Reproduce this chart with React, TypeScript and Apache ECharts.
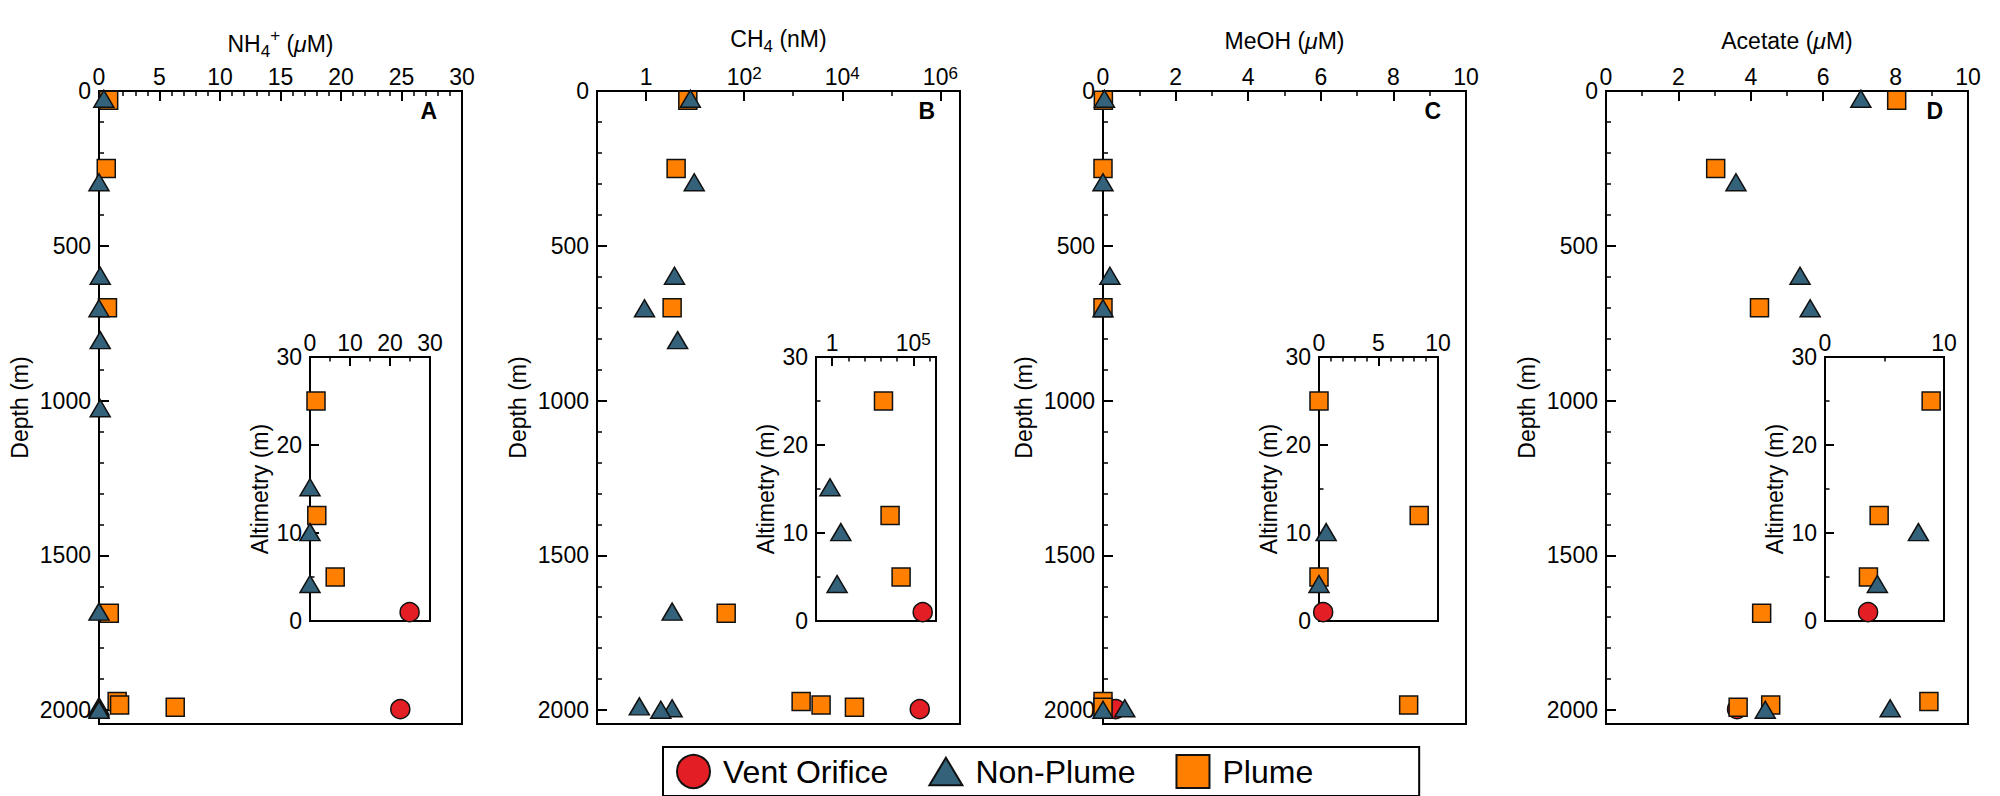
import React, { useEffect, useRef } from 'react';
import * as echarts from 'echarts';

const FONT = '"Liberation Sans", Arial, Helvetica, sans-serif';

// ---------- data ----------
const seriesNames = ['Vent Orifice', 'Non-Plume', 'Plume'];
const panelLetters = ['A', 'B', 'C', 'D'];

// sample depths (m) and altimetry (m above seafloor)
const plumeDepth = [30, 250, 700, 1687, 1972, 1984, 1991];
const nonPlumeDepth = [25, 295, 597, 702, 805, 1025, 1682, 1988, 1994, 1999];
const ventDepth = [1997];
const plumeAlt = [null, null, null, null, 25, 12, 5];
const nonPlumeAlt = [null, null, null, null, null, null, null, 15.2, 10.1, 4.2];
const ventAlt = [1];

// NH4+ (uM)
const nh4Plume = [0.8, 0.6, 0.7, 0.85, 1.5, 1.7, 6.3];
const nh4NonPlume = [0.4, 0.0, 0.1, 0.0, 0.1, 0.1, 0.0, 0.0, 0.0, 0.0];
const nh4Vent = [24.9];
// CH4 (nM)
const ch4Plume = [7.1, 4.1, 3.4, 43, 1450, 3700, 17700];
const ch4NonPlume = [8, 9.6, 3.8, 0.93, 4.4, null, 3.4, 0.73, 3.4, 2.0];
const ch4Vent = [380000];
// MeOH (uM)
const meohPlume = [0.01, 0.0, 0.0, null, 0.0, 8.42, 0.0];
const meohNonPlume = [0.04, 0.0, 0.19, 0.0, null, null, null, null, 0.6, 0.0];
const meohVent = [0.35];
// Acetate (uM)
const acetatePlume = [8.03, 3.03, 4.24, 4.3, 8.92, 4.55, 3.65];
const acetateNonPlume = [7.04, 3.59, 5.36, 5.64, null, null, null, null, 7.85, 4.4];
const acetateVent = [3.62];

// axis ticks
const ch4LabelExps = [0, 2, 4, 6];
const ch4InsetLabelExps = [0, 5];
const depthTicks = [0, 500, 1000, 1500, 2000];
const altTicks = [0, 10, 20, 30];

// ---------- layout / style ----------
const mainGrids = [
  { left: 99, top: 91, width: 363, height: 633 },
  { left: 597, top: 91, width: 363, height: 633 },
  { left: 1103, top: 91, width: 363, height: 633 },
  { left: 1606, top: 91, width: 362, height: 633 },
];
const insetGrids = [
  { left: 310, top: 357, width: 120, height: 264 },
  { left: 816, top: 357, width: 120, height: 264 },
  { left: 1319, top: 357, width: 119, height: 264 },
  { left: 1825, top: 357, width: 119, height: 264 },
];
const COLORS = { vent: '#e31e24', non: '#33627a', plume: '#ff8000' };
const BLACK = '#000';
const axisLineStyle = { color: BLACK, width: 2 };

const textRich = {
  n: { fontSize: 23, lineHeight: 23, verticalAlign: 'top', fontFamily: FONT, color: BLACK },
  it: { fontSize: 23, lineHeight: 23, verticalAlign: 'top', fontStyle: 'italic', fontFamily: FONT, color: BLACK },
  sub: { fontSize: 17, lineHeight: 17, padding: [11, 0, 0, 0], verticalAlign: 'top', fontFamily: FONT, color: BLACK },
  // NH4+ title: subscript 4 and superscript + around the base text
  na: { fontSize: 23, lineHeight: 23, padding: [5, 0, 0, 0], verticalAlign: 'top', fontFamily: FONT, color: BLACK },
  ita: { fontSize: 23, lineHeight: 23, padding: [5, 0, 0, 0], verticalAlign: 'top', fontStyle: 'italic', fontFamily: FONT, color: BLACK },
  sub4: { fontSize: 17, lineHeight: 17, padding: [15.5, 0, 0, 0], verticalAlign: 'top', fontFamily: FONT, color: BLACK },
  sup4: { fontSize: 17, lineHeight: 17, padding: [0, 0, 0, 0], verticalAlign: 'top', fontFamily: FONT, color: BLACK },
};
const supRich = {
  b: { fontSize: 23, lineHeight: 23, verticalAlign: 'bottom', fontFamily: FONT, color: BLACK },
  sup: { fontSize: 17, lineHeight: 17, padding: [0, 0, 12, 0], verticalAlign: 'top', fontFamily: FONT, color: BLACK },
};

const log10 = (v: number) => Math.log10(v);
const logLabel = (v: number) => {
  const r = Math.round(v);
  if (Math.abs(v - r) > 1e-6) return '';
  return r === 0 ? '{b|1}' : `{b|10}{sup|${r}}`;
};

function pairs(xs: (number | null)[], ys: (number | null)[], tf?: (v: number) => number) {
  const out: number[][] = [];
  xs.forEach((x, i) => {
    const y = ys[i];
    if (x == null || y == null) return;
    out.push([tf ? tf(x) : x, y]);
  });
  return out;
}

function xAxisBase(gridIndex: number, o: any) {
  return {
    type: 'value',
    gridIndex,
    position: 'top',
    min: o.min,
    max: o.max,
    interval: o.interval,
    axisLine: { show: true, onZero: false, lineStyle: axisLineStyle },
    axisTick: { show: true, inside: true, length: o.tickLen, lineStyle: axisLineStyle, ...(o.tickCustom ? { customValues: o.tickCustom } : {}) },
    minorTick: o.minor ? { show: true, splitNumber: o.minor, length: o.tickLen / 2, lineStyle: { color: BLACK, width: 1.5 } } : { show: false },
    splitLine: { show: false },
    axisLabel: {
      show: o.labels !== false,
      margin: 3,
      fontSize: 23,
      fontFamily: FONT,
      color: BLACK,
      ...(o.labelCustom ? { customValues: o.labelCustom } : {}),
      ...(o.formatter ? { formatter: o.formatter, rich: supRich } : {}),
    },
    name: o.name || '',
    nameLocation: 'middle',
    nameGap: o.nameGap || 0,
    nameTextStyle: { fontSize: 23, fontFamily: FONT, color: BLACK, rich: textRich },
  };
}

function overlayAxis(gridIndex: number, o: any, dim: 'x' | 'y') {
  return {
    type: 'value',
    gridIndex,
    position: dim === 'x' ? 'top' : 'left',
    min: o.min,
    max: o.max,
    interval: o.interval,
    inverse: !!o.inverse,
    axisLine: { show: false, onZero: false },
    axisTick: { show: true, inside: true, length: o.tickLen, lineStyle: { color: BLACK, width: 1.5 } },
    axisLabel: { show: false },
    splitLine: { show: false },
  };
}

function yAxisBase(gridIndex: number, o: any) {
  return {
    type: 'value',
    gridIndex,
    position: 'left',
    min: o.min,
    max: o.max,
    interval: o.interval,
    inverse: !!o.inverse,
    axisLine: { show: true, onZero: false, lineStyle: axisLineStyle },
    axisTick: { show: true, inside: true, length: o.tickLen, lineStyle: axisLineStyle },
    minorTick: o.minor ? { show: true, splitNumber: o.minor, length: o.tickLen / 2, lineStyle: { color: BLACK, width: 1.5 } } : { show: false },
    splitLine: { show: false },
    axisLabel: {
      margin: 8,
      fontSize: 23,
      fontFamily: FONT,
      color: BLACK,
      formatter: (v: number) => (o.labelSet.indexOf(v) >= 0 ? String(v) : ''),
    },
    name: o.name,
    nameLocation: 'middle',
    nameGap: o.nameGap,
    nameTextStyle: { fontSize: 23, lineHeight: 23, fontFamily: FONT, color: BLACK },
  };
}

function buildOption() {
  const panelData = [
    { plume: nh4Plume, non: nh4NonPlume, vent: nh4Vent, tf: undefined },
    { plume: ch4Plume, non: ch4NonPlume, vent: ch4Vent, tf: log10 },
    { plume: meohPlume, non: meohNonPlume, vent: meohVent, tf: undefined },
    { plume: acetatePlume, non: acetateNonPlume, vent: acetateVent, tf: undefined },
  ];
  const mainX = [
    { min: 0, max: 30, interval: 5, minor: 5, tickLen: 10, name: '{na|NH}{sub4|4}{sup4|+}{na| (}{ita|μ}{na|M)}', nameGap: 41 },
    { min: -1, max: 6.4, interval: 1, tickLen: 10, tickCustom: ch4LabelExps, labelCustom: ch4LabelExps, formatter: logLabel, name: '{n|CH}{sub|4}{n| (nM)}', nameGap: 41 },
    { min: 0, max: 10, interval: 2, minor: 2, tickLen: 10, name: '{n|MeOH (}{it|μ}{n|M)}', nameGap: 39 },
    { min: 0, max: 10, interval: 2, minor: 2, tickLen: 10, name: '{n|Acetate (}{it|μ}{n|M)}', nameGap: 39 },
  ];
  const insetX = [
    { min: 0, max: 30, interval: 10, minor: 2, tickLen: 9 },
    { min: -1, max: 6.4, interval: 1, tickLen: 9, tickCustom: ch4InsetLabelExps, labelCustom: ch4InsetLabelExps, formatter: logLabel },
    { min: 0, max: 10, interval: 5, minor: 5, tickLen: 9 },
    { min: 0, max: 10, interval: 10, minor: 2, tickLen: 9 },
  ];
  const xAxis: any[] = [];
  mainX.forEach((o, i) => xAxis.push(xAxisBase(i, o)));
  insetX.forEach((o, i) => xAxis.push(xAxisBase(4 + i, o)));
  // decade ticks for the log panels
  xAxis.push(overlayAxis(1, { min: -1, max: 6.4, interval: 1, tickLen: 5 }, 'x'));
  xAxis.push(overlayAxis(5, { min: -1, max: 6.4, interval: 1, tickLen: 4.5 }, 'x'));

  const yAxis: any[] = [];
  for (let i = 0; i < 4; i++) {
    yAxis.push(yAxisBase(i, { min: 0, max: 2045, interval: 500, inverse: true, tickLen: 10, labelSet: depthTicks, name: 'Depth (m)', nameGap: 68 }));
  }
  for (let i = 0; i < 4; i++) {
    yAxis.push(yAxisBase(4 + i, { min: 0, max: 30, interval: 10, minor: 2, tickLen: 9, labelSet: altTicks, name: 'Altimetry (m)', nameGap: 39 }));
  }
  for (let i = 0; i < 4; i++) {
    yAxis.push(overlayAxis(i, { min: 0, max: 2045, interval: 100, inverse: true, tickLen: 5 }, 'y'));
  }

  const series: any[] = [];
  const mk = (name: string, xi: number, yi: number, data: number[][]) => {
    const base: any = {
      type: 'scatter',
      name,
      xAxisIndex: xi,
      yAxisIndex: yi,
      data,
      clip: false,
      emphasis: { disabled: true },
      itemStyle: { borderColor: '#111', borderWidth: 1.5, opacity: 1 },
    };
    if (name === 'Vent Orifice') {
      base.symbol = 'circle';
      base.symbolSize = 19;
      base.itemStyle.color = COLORS.vent;
    } else if (name === 'Non-Plume') {
      base.symbol = 'triangle';
      base.symbolSize = [20, 17];
      base.itemStyle.color = COLORS.non;
    } else {
      base.symbol = 'rect';
      base.symbolSize = 18;
      base.itemStyle.color = COLORS.plume;
    }
    return base;
  };
  panelData.forEach((p, i) => {
    // main panel (depth)
    series.push(mk('Vent Orifice', i, i, pairs(p.vent, ventDepth, p.tf)));
    series.push(mk('Plume', i, i, pairs(p.plume, plumeDepth, p.tf)));
    series.push(mk('Non-Plume', i, i, pairs(p.non, nonPlumeDepth, p.tf)));
    // inset (altimetry)
    series.push(mk('Vent Orifice', 4 + i, 4 + i, pairs(p.vent, ventAlt, p.tf)));
    series.push(mk('Plume', 4 + i, 4 + i, pairs(p.plume, plumeAlt, p.tf)));
    series.push(mk('Non-Plume', 4 + i, 4 + i, pairs(p.non, nonPlumeAlt, p.tf)));
  });

  const grid = [...mainGrids, ...insetGrids].map((g) => ({
    ...g,
    show: true,
    borderColor: BLACK,
    borderWidth: 2,
    backgroundColor: 'transparent',
  }));

  const graphic: any[] = panelLetters.map((L, i) => ({
    type: 'text',
    x: mainGrids[i].left + mainGrids[i].width - 25,
    y: 111,
    style: { text: L, fontSize: 23, fontWeight: 'bold', fontFamily: FONT, fill: BLACK, align: 'right', verticalAlign: 'middle' },
  }));

  return {
    animation: false,
    backgroundColor: '#fff',
    grid,
    xAxis,
    yAxis,
    series,
    graphic,
    legend: {
      data: [
        { name: seriesNames[0], icon: 'circle' },
        { name: seriesNames[1], icon: 'path://M15,0L30,25L0,25Z' },
        { name: seriesNames[2], icon: 'rect' },
      ],
      left: 663,
      top: 747,
      orient: 'horizontal',
      padding: [7, 106, 7, 13],
      itemGap: 40,
      itemWidth: 33,
      itemHeight: 33,
      selectedMode: false,
      borderColor: BLACK,
      borderWidth: 2,
      backgroundColor: '#fff',
      itemStyle: { borderColor: '#111', borderWidth: 2 },
      textStyle: { fontSize: 32, fontFamily: FONT, color: BLACK, padding: [0, 0, 0, 8] },
    },
  };
}

export default function App() {
  const ref = useRef<HTMLDivElement>(null);
  useEffect(() => {
    if (!ref.current) return;
    const chart = echarts.init(ref.current, null, { renderer: 'svg', width: 2000, height: 796 });
    chart.setOption(buildOption() as any);
    return () => chart.dispose();
  }, []);
  return (
    <div
      ref={ref}
      style={{ position: 'absolute', left: 0, top: 0, width: 2000, height: 796, background: '#fff' }}
    />
  );
}
